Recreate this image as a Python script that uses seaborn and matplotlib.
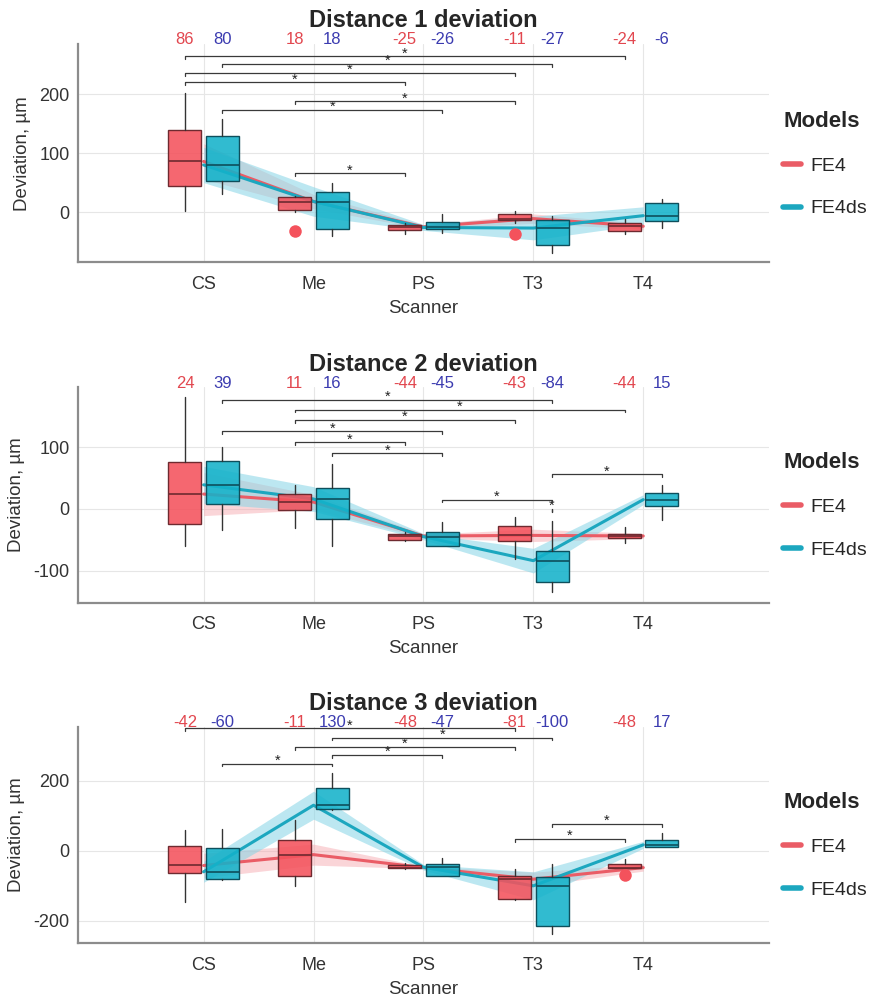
import numpy as np
import pandas as pd
import matplotlib
matplotlib.use("Agg")
import matplotlib.pyplot as plt
from matplotlib.lines import Line2D
from matplotlib.colors import to_rgba
import seaborn as sns

# Categorias e modelos
scanners = ["CS", "Me", "PS", "T3", "T4"]
models = ["FE4", "FE4ds"]
titles = ["Distance 1 deviation", "Distance 2 deviation", "Distance 3 deviation"]

# ---------- Distance 1 ----------
d1_fe4_med = [86, 18, -25, -11, -24]
d1_fe4_q1 = [44, 3, -30, -14, -32]
d1_fe4_q3 = [139, 25, -22, -3, -19]
d1_fe4_lo = [2, 0, -37, -18, -37]
d1_fe4_hi = [202, 28, -18, 2, -12]
d1_fe4_ci = [30, 12, 3, 8, 5]
d1_fe4_out = [[], [-32], [], [-37], []]

d1_fe4ds_med = [80, 18, -26, -27, -6]
d1_fe4ds_q1 = [52, -29, -29, -55, -15]
d1_fe4ds_q3 = [129, 34, -17, -13, 15]
d1_fe4ds_lo = [30, -40, -35, -69, -27]
d1_fe4ds_hi = [158, 50, -3, -7, 22]
d1_fe4ds_ci = [30, 25, 5, 20, 15]
d1_fe4ds_out = [[], [], [], [], []]

# ---------- Distance 2 ----------
d2_fe4_med = [24, 11, -44, -43, -44]
d2_fe4_q1 = [-24, -2, -50, -52, -48]
d2_fe4_q3 = [76, 24, -40, -27, -40]
d2_fe4_lo = [-60, -31, -52, -81, -55]
d2_fe4_hi = [181, 39, -37, -13, -29]
d2_fe4_ci = [35, 12, 3, 10, 4]
d2_fe4_out = [[], [], [], [], []]

d2_fe4ds_med = [39, 16, -45, -84, 15]
d2_fe4ds_q1 = [8, -16, -60, -118, 5]
d2_fe4ds_q3 = [78, 34, -37, -68, 26]
d2_fe4ds_lo = [-35, -61, -61, -134, -18]
d2_fe4ds_hi = [100, 73, -21, -19, 39]
d2_fe4ds_ci = [30, 20, 5, 20, 8]
d2_fe4ds_out = [[], [], [], [], []]

# ---------- Distance 3 ----------
d3_fe4_med = [-42, -11, -48, -81, -48]
d3_fe4_q1 = [-62, -71, -49, -137, -49]
d3_fe4_q3 = [14, 31, -40, -71, -37]
d3_fe4_lo = [-145, -100, -52, -140, -50]
d3_fe4_hi = [60, 89, -36, -51, -23]
d3_fe4_ci = [35, 30, 3, 20, 10]
d3_fe4_out = [[], [], [], [], [-69]]

d3_fe4ds_med = [-60, 130, -47, -100, 17]
d3_fe4ds_q1 = [-80, 120, -71, -214, 11]
d3_fe4ds_q3 = [8, 180, -37, -74, 31]
d3_fe4ds_lo = [-83, 115, -72, -237, 11]
d3_fe4ds_hi = [63, 223, -20, -37, 51]
d3_fe4ds_ci = [30, 40, 8, 40, 10]
d3_fe4ds_out = [[], [], [], [], []]

# Comparações significativas: (modelo, scanner, modelo, scanner, altura)
d1_sig = [("FE4", "CS", "FE4", "T4", 264), ("FE4ds", "CS", "FE4ds", "T3", 251),
          ("FE4", "CS", "FE4", "T3", 236), ("FE4", "CS", "FE4", "PS", 220),
          ("FE4", "Me", "FE4", "T3", 188), ("FE4ds", "CS", "FE4ds", "PS", 173),
          ("FE4", "Me", "FE4", "PS", 66)]
d2_sig = [("FE4ds", "CS", "FE4ds", "T3", 177), ("FE4", "Me", "FE4", "T4", 161),
          ("FE4", "Me", "FE4", "T3", 144), ("FE4ds", "CS", "FE4ds", "PS", 126),
          ("FE4", "Me", "FE4", "PS", 108), ("FE4ds", "Me", "FE4ds", "PS", 90),
          ("FE4ds", "PS", "FE4ds", "T3", 15), ("FE4ds", "T3", "FE4ds", "T4", 56),
          ("FE4ds", "T3", "FE4ds", "T3", 0)]
d3_sig = [("FE4", "CS", "FE4", "T3", 349), ("FE4ds", "Me", "FE4ds", "T3", 323),
          ("FE4", "Me", "FE4", "T3", 297), ("FE4ds", "Me", "FE4ds", "PS", 274),
          ("FE4ds", "CS", "FE4ds", "Me", 249), ("FE4ds", "T3", "FE4ds", "T4", 77),
          ("FE4", "T3", "FE4", "T4", 34)]

ylims = [(-85, 285), (-152, 197), (-263, 354)]
yticks = [[0, 100, 200], [-100, 0, 100], [-200, 0, 200]]

# Cores
box_face = {"FE4": "#F4525C", "FE4ds": "#14B2CA"}
box_edge = {"FE4": "#6E2A30", "FE4ds": "#0E4F5C"}
line_col = {"FE4": "#EA5C66", "FE4ds": "#1CA7BF"}
band_col = {"FE4": "#F6A3AA", "FE4ds": "#86D5E6"}
band_alpha = {"FE4": 0.45, "FE4ds": 0.55}
num_col = {"FE4": "#E2474F", "FE4ds": "#3B3BB0"}
offset = {"FE4": -0.17, "FE4ds": 0.17}

panels = [
    {"FE4": (d1_fe4_med, d1_fe4_q1, d1_fe4_q3, d1_fe4_lo, d1_fe4_hi, d1_fe4_ci, d1_fe4_out),
     "FE4ds": (d1_fe4ds_med, d1_fe4ds_q1, d1_fe4ds_q3, d1_fe4ds_lo, d1_fe4ds_hi, d1_fe4ds_ci, d1_fe4ds_out),
     "sig": d1_sig},
    {"FE4": (d2_fe4_med, d2_fe4_q1, d2_fe4_q3, d2_fe4_lo, d2_fe4_hi, d2_fe4_ci, d2_fe4_out),
     "FE4ds": (d2_fe4ds_med, d2_fe4ds_q1, d2_fe4ds_q3, d2_fe4ds_lo, d2_fe4ds_hi, d2_fe4ds_ci, d2_fe4ds_out),
     "sig": d2_sig},
    {"FE4": (d3_fe4_med, d3_fe4_q1, d3_fe4_q3, d3_fe4_lo, d3_fe4_hi, d3_fe4_ci, d3_fe4_out),
     "FE4ds": (d3_fe4ds_med, d3_fe4ds_q1, d3_fe4ds_q3, d3_fe4ds_lo, d3_fe4ds_hi, d3_fe4ds_ci, d3_fe4ds_out),
     "sig": d3_sig},
]

sns.set_theme(style="whitegrid")
plt.rcParams["font.family"] = ["Liberation Sans", "DejaVu Sans"]
plt.rcParams["axes.unicode_minus"] = False

fig = plt.figure(figsize=(8.74, 10.01), dpi=100)
rects = [[0.089, 0.738, 0.791, 0.218], [0.089, 0.398, 0.791, 0.215], [0.089, 0.058, 0.791, 0.216]]
pos = np.arange(1, len(scanners) + 1)

for p, panel in enumerate(panels):
    ax = fig.add_axes(rects[p])
    ax.set_facecolor("white")

    for m in models:
        med, q1, q3, lo, hi, ci, out = panel[m]
        stats = [dict(med=med[i], q1=q1[i], q3=q3[i], whislo=lo[i], whishi=hi[i], fliers=out[i])
                 for i in range(len(scanners))]
        ax.bxp(stats, positions=pos + offset[m], widths=0.3, patch_artist=True, showcaps=False,
               manage_ticks=False, zorder=3,
               boxprops=dict(facecolor=to_rgba(box_face[m], 0.88), edgecolor=box_edge[m], linewidth=1),
               medianprops=dict(color=box_edge[m], linewidth=1.2),
               whiskerprops=dict(color="#333333", linewidth=1),
               flierprops=dict(marker="o", markerfacecolor=box_face[m], markeredgecolor="none",
                               markersize=9))
        lowb = np.array(med) - np.array(ci)
        upb = np.array(med) + np.array(ci)
        ax.fill_between(pos, lowb, upb, color=band_col[m], alpha=band_alpha[m], lw=0, zorder=2)

    # linhas das medianas
    df = pd.DataFrame({
        "pos": np.concatenate([pos, pos]),
        "dev": panel["FE4"][0] + panel["FE4ds"][0],
        "model": ["FE4"] * len(scanners) + ["FE4ds"] * len(scanners),
    })
    sns.lineplot(data=df, x="pos", y="dev", hue="model", palette=line_col, linewidth=2.2,
                 legend=False, ax=ax, zorder=2.5)

    # valores das medianas acima do gráfico
    for m in models:
        for i, v in enumerate(panel[m][0]):
            ax.annotate(str(v), xy=(pos[i] + offset[m], 1.0), xycoords=("data", "axes fraction"),
                        xytext=(0, 3), textcoords="offset points", ha="center", va="center",
                        color=num_col[m], fontsize=12, annotation_clip=False)

    # colchetes de significância
    yr = ylims[p][1] - ylims[p][0]
    tick = yr * 0.013
    for ma, sa, mb, sb, yb in panel["sig"]:
        xa = scanners.index(sa) + 1 + offset[ma]
        xb = scanners.index(sb) + 1 + offset[mb]
        ax.plot([xa, xa, xb, xb], [yb - tick, yb, yb, yb - tick], color="#3a3a3a", lw=0.9,
                zorder=5, clip_on=False)
        ax.annotate("*", xy=((xa + xb) / 2, yb), xytext=(0, -3), textcoords="offset points",
                    ha="center", va="bottom", fontsize=10.5, color="#222222", annotation_clip=False)

    ax.set_xlim(-0.145, 6.145)
    ax.set_ylim(*ylims[p])
    ax.set_xticks(pos)
    ax.set_xticklabels(scanners)
    ax.set_yticks(yticks[p])
    ax.grid(True, color="#E6E6E6", lw=0.8)
    ax.set_axisbelow(True)
    for s in ["top", "right"]:
        ax.spines[s].set_visible(False)
    for s in ["left", "bottom"]:
        ax.spines[s].set_color("#8C8C8C")
        ax.spines[s].set_linewidth(1.6)
    ax.tick_params(axis="both", direction="in", length=4, width=1, color="#8C8C8C",
                   labelsize=13, labelcolor="#333333")
    ax.tick_params(axis="x", pad=10)
    ax.tick_params(axis="y", pad=6)
    ax.set_xlabel("Scanner", fontsize=13.5, color="#333333", labelpad=5)
    ax.set_ylabel("Deviation, µm", fontsize=13.5, color="#333333", labelpad=6)
    ax.set_title(titles[p], fontsize=17, fontweight="bold", pad=12)

    handles = [Line2D([0], [0], color=line_col[m], lw=4) for m in models]
    leg = ax.legend(handles, models, title="Models", loc="center left", bbox_to_anchor=(0.995, 0.45),
                    frameon=False, handlelength=0.9, handletextpad=0.5, labelspacing=1.3,
                    fontsize=14, title_fontproperties={"weight": "bold", "size": 16})
    leg._legend_box.align = "left"

fig.savefig("out.png", dpi=100)
